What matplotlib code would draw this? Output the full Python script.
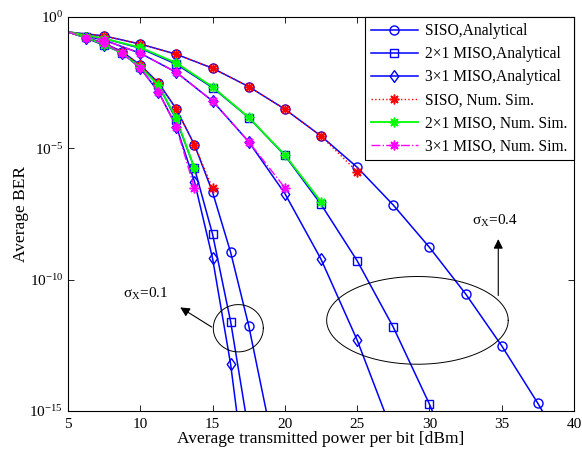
import numpy as np
import matplotlib
matplotlib.use('Agg')
import matplotlib.pyplot as plt

plt.rcParams['font.family'] = ['Liberation Serif', 'DejaVu Serif']
plt.rcParams['mathtext.fontset'] = 'custom'
plt.rcParams['mathtext.rm'] = 'Liberation Serif'
plt.rcParams['mathtext.it'] = 'Liberation Serif:italic'
plt.rcParams['font.size'] = 11

# sigma_x = 0.4 (2.5 dB grid), values are log10(BER)
x_wide = [5, 7.5, 10, 12.5, 15, 17.5, 20, 22.5, 25, 27.5, 30, 32.5, 35, 37.5, 40]
siso_04 = [-0.57, -0.72, -1.03, -1.42, -1.95, -2.65, -3.51, -4.53, -5.72, -7.16, -8.77, -10.54, -12.52, -14.71, -17.1]
miso2_04 = [-0.57, -0.82, -1.19, -1.80, -2.69, -3.83, -5.27, -7.13, -9.28, -11.81, -14.74, -18.0]
miso3_04 = [-0.57, -0.88, -1.38, -2.11, -3.20, -4.75, -6.72, -9.22, -12.30, -15.9]
siso_04_sim = [-0.57, -0.72, -1.03, -1.42, -1.95, -2.65, -3.51, -4.53, -5.89]
miso2_04_sim = [-0.57, -0.82, -1.16, -1.75, -2.66, -3.82, -5.25, -7.03]
miso3_04_sim = [-0.57, -0.88, -1.38, -2.11, -3.20, -4.75, -6.50]

# sigma_x = 0.1 (1.25 dB grid)
x_fine = [5, 6.25, 7.5, 8.75, 10, 11.25, 12.5, 13.75, 15, 16.25, 17.5, 18.75]
siso_01 = [-0.57, -0.77, -1.0, -1.32, -1.83, -2.50, -3.51, -4.87, -6.67, -8.96, -11.75, -15.1]
miso2_01 = [-0.57, -0.78, -1.05, -1.38, -1.90, -2.59, -3.92, -5.76, -8.27, -11.6, -15.8]
miso3_01 = [-0.57, -0.80, -1.08, -1.36, -1.95, -2.84, -4.17, -6.27, -9.19, -13.22, -18.6]
siso_01_sim = [-0.57, -0.77, -1.0, -1.32, -1.83, -2.50, -3.51, -4.87, -6.52]
miso2_01_sim = [-0.57, -0.78, -1.05, -1.38, -1.90, -2.59, -3.86, -5.76]
miso3_01_sim = [-0.57, -0.81, -1.0, -1.38, -1.95, -2.84, -4.2, -6.52]

labels = ['SISO,Analytical', '2\u00d71 MISO,Analytical', '3\u00d71 MISO,Analytical',
          'SISO, Num. Sim.', '2\u00d71 MISO, Num. Sim.', '3\u00d71 MISO, Num. Sim.']


def ber(v):
    return 10.0 ** np.array(v)


fig = plt.figure(figsize=(5.82, 4.57), dpi=100)
ax = fig.add_axes([0.1168, 0.1007, 0.8695, 0.8621])

star = (8, 2, 0)  # matlab-like asterisk
diamond = [(0, 1), (0.72, 0), (0, -1), (-0.72, 0), (0, 1)]
ana_style = dict(color='blue', lw=1.1, mfc='none', mec='blue', mew=1.0, markevery=slice(1, -1))
sim_red = dict(color='red', ls=':', lw=1.0, marker=star, ms=7, mew=1.1, markevery=slice(1, None))
sim_green = dict(color='lime', ls='-', lw=1.3, marker=star, ms=7, mew=1.1, markevery=slice(1, None))
sim_mag = dict(color='magenta', ls='-.', lw=1.0, marker=star, ms=7, mew=1.1, markevery=slice(1, None))

# analytical curves
ax.plot(x_wide[:len(siso_04)], ber(siso_04), marker='o', ms=6.5, label=labels[0], **ana_style)
ax.plot(x_wide[:len(miso2_04)], ber(miso2_04), marker='s', ms=5.8, label=labels[1], **ana_style)
ax.plot(x_wide[:len(miso3_04)], ber(miso3_04), marker=diamond, ms=8.5, label=labels[2], **ana_style)
ax.plot(x_fine[:len(siso_01)], ber(siso_01), marker='o', ms=6.5, **ana_style)
ax.plot(x_fine[:len(miso2_01)], ber(miso2_01), marker='s', ms=5.8, **ana_style)
ax.plot(x_fine[:len(miso3_01)], ber(miso3_01), marker=diamond, ms=8.5, **ana_style)

# simulation
ax.plot(x_wide[:len(siso_04_sim)], ber(siso_04_sim), label=labels[3], **sim_red)
ax.plot(x_wide[:len(miso2_04_sim)], ber(miso2_04_sim), label=labels[4], **sim_green)
ax.plot(x_wide[:len(miso3_04_sim)], ber(miso3_04_sim), label=labels[5], **sim_mag)
ax.plot(x_fine[:len(siso_01_sim)], ber(siso_01_sim), **sim_red)
ax.plot(x_fine[:len(miso2_01_sim)], ber(miso2_01_sim), **sim_green)
ax.plot(x_fine[:len(miso3_01_sim)], ber(miso3_01_sim), **sim_mag)

# ellipses around the curve groups (drawn in log space)
t = np.linspace(0, 2 * np.pi, 200)
for cx, cy, a, b in [(16.78, -11.85, 1.73, 0.9), (29.17, -11.55, 6.28, 1.67)]:
    ax.plot(cx + a * np.cos(t), 10 ** (cy + b * np.sin(t)), color='black', lw=0.7)

ax.annotate('', xy=(12.6, 10 ** -11.0), xytext=(15.1, 10 ** -11.86),
            arrowprops=dict(arrowstyle='-|>', color='black', lw=0.8, mutation_scale=14))
ax.text(10.4, 10 ** -10.55, '\u03c3$_\\mathregular{X}$=0.1', ha='center', va='center', fontsize=11)
ax.annotate('', xy=(34.76, 10 ** -8.35), xytext=(34.76, 10 ** -10.71),
            arrowprops=dict(arrowstyle='-|>', color='black', lw=0.8, mutation_scale=14))
ax.text(34.54, 10 ** -7.75, '\u03c3$_\\mathregular{X}$=0.4', ha='center', va='center', fontsize=11)

ax.set_yscale('log')
ax.set_xlim(5, 40)
ax.set_ylim(1e-15, 1)
ax.set_xticks([5, 10, 15, 20, 25, 30, 35, 40])
ax.set_yticks([1e-15, 1e-10, 1e-5, 1])
ax.minorticks_off()
ax.tick_params(direction='in', top=True, right=True, length=4, width=0.6, labelsize=11)
ax.tick_params(axis='x', pad=5)
for s in ax.spines.values():
    s.set_linewidth(0.8)
ax.set_xlabel('Average transmitted power per bit [dBm]', fontsize=12.5, labelpad=0)
ax.set_ylabel('Average BER', fontsize=12.5, labelpad=0)

leg = ax.legend(loc='upper right', borderaxespad=0, fancybox=False, framealpha=1,
                edgecolor='black', fontsize=11.2, numpoints=1, handlelength=3.0,
                handletextpad=0.5, labelspacing=0.45)
leg.get_frame().set_linewidth(0.8)

fig.savefig('out.png', dpi=100)
